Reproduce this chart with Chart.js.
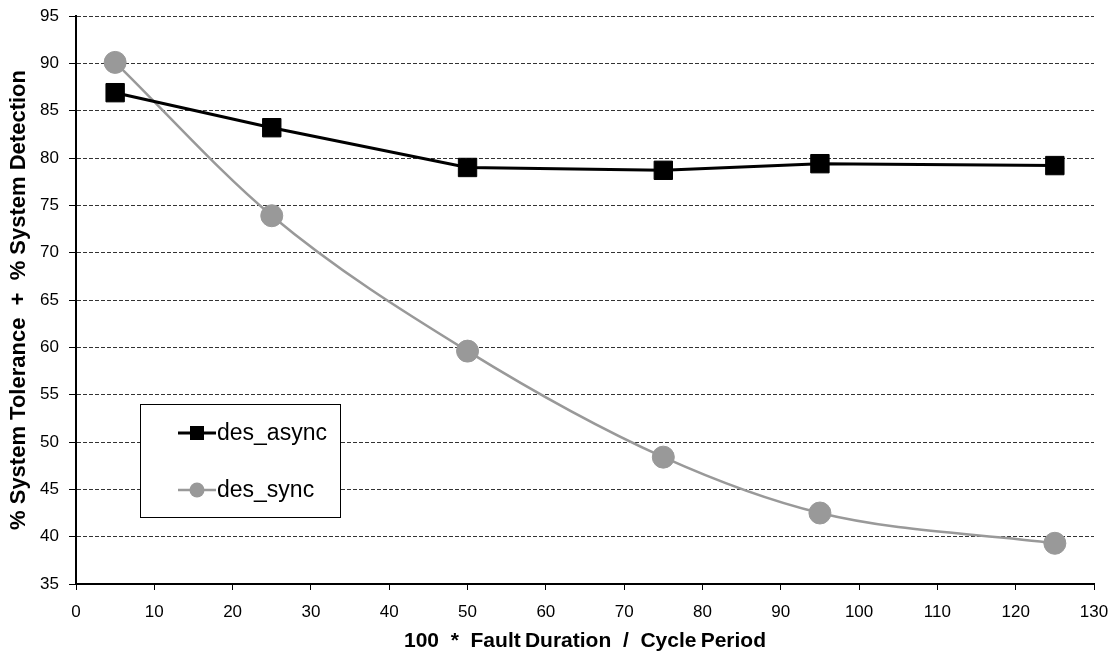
<!DOCTYPE html>
<html>
<head>
<meta charset="utf-8">
<script src="https://cdn.jsdelivr.net/npm/chart.js@4.4.0/dist/chart.umd.min.js"></script>
<style>
  html, body { margin: 0; padding: 0; background: #fff; }
  #wrap { width: 1114px; height: 654px; position: relative; }
</style>
</head>
<body>
<div id="wrap"><canvas id="faultChart"></canvas></div>
<script>
// x values (100 * fault duration / cycle period)
const faultRatio = [5, 25, 50, 75, 95, 125];
// % system tolerance + % system detection
const desAsync = [86.9, 83.2, 79.0, 78.7, 79.4, 79.2];
const desSync = [90.1, 73.9, 59.6, 48.4, 42.5, 39.3];

const seriesNames = ['des_async', 'des_sync'];
const xTitle = '100  *  Fault\u2009Duration  /  Cycle\u2009Period';
const yTitle = '% System Tolerance  +  % System Detection';

const FONT = '"Liberation Sans", Arial, sans-serif';
const toPoints = (xs, ys) => xs.map((x, i) => ({ x: x, y: ys[i] }));

// legend box drawn inside the plot, like the original
const boxLegend = {
    id: 'boxLegend',
    afterDraw(chart) {
        const ctx = chart.ctx;
        ctx.save();
        ctx.strokeStyle = '#000';
        ctx.lineWidth = 1;
        ctx.fillStyle = '#fff';
        ctx.fillRect(140.5, 404.5, 200, 113);
        ctx.strokeRect(140.5, 404.5, 200, 113);

        const rows = [
            { y: 433, color: '#000', width: 3, shape: 'square' },
            { y: 490, color: '#999', width: 2.5, shape: 'circle' }
        ];
        rows.forEach((r, i) => {
            ctx.strokeStyle = r.color;
            ctx.lineWidth = r.width;
            ctx.beginPath();
            ctx.moveTo(178, r.y);
            ctx.lineTo(216, r.y);
            ctx.stroke();
            ctx.fillStyle = r.color;
            if (r.shape === 'square') {
                ctx.fillRect(190, r.y - 7, 14, 14);
            } else {
                ctx.beginPath();
                ctx.arc(197, r.y, 7.5, 0, Math.PI * 2);
                ctx.fill();
            }
            ctx.fillStyle = '#000';
            ctx.font = '23px ' + FONT;
            ctx.textBaseline = 'middle';
            ctx.fillText(seriesNames[i], 217, r.y + 1);
        });
        ctx.restore();
    }
};

const ctx = document.getElementById('faultChart').getContext('2d');
new Chart(ctx, {
    type: 'line',
    data: {
        datasets: [
            {
                label: seriesNames[0],
                data: toPoints(faultRatio, desAsync),
                borderColor: '#000',
                backgroundColor: '#000',
                borderWidth: 3,
                pointStyle: 'rect',
                pointRadius: 13,
                pointBorderWidth: 1,
                pointBorderColor: '#000',
                tension: 0
            },
            {
                label: seriesNames[1],
                data: toPoints(faultRatio, desSync),
                borderColor: '#999',
                backgroundColor: '#999',
                borderWidth: 2.5,
                pointStyle: 'circle',
                pointRadius: 11,
                pointBorderWidth: 1,
                pointBorderColor: '#999',
                cubicInterpolationMode: 'monotone'
            }
        ]
    },
    options: {
        responsive: true,
        maintainAspectRatio: false,
        animation: false,
        layout: { padding: { top: 16, right: 20, left: 0, bottom: 0 } },
        plugins: {
            legend: { display: false },
            tooltip: { enabled: false }
        },
        scales: {
            x: {
                type: 'linear',
                min: 0, max: 130,
                ticks: { stepSize: 10, color: '#000', padding: 12, font: { family: FONT, size: 17 } },
                grid: { drawOnChartArea: false, drawTicks: true, tickLength: 6, tickColor: '#000', tickWidth: 1 },
                border: { color: '#000', width: 2 },
                title: { display: true, text: xTitle, color: '#000', padding: { top: 2, bottom: 0 }, font: { family: FONT, size: 21, weight: 'bold' } },
                afterFit(scale) {
                    scale.height = 70;
                    scale.paddingLeft = 0;
                    scale.paddingRight = 0;
                }
            },
            y: {
                min: 35, max: 95,
                ticks: { stepSize: 5, color: '#000', padding: 10, font: { family: FONT, size: 17 } },
                grid: { color: '#333', lineWidth: 1, tickLength: 7, tickColor: '#000', tickWidth: 1, tickBorderDash: [] },
                border: { color: '#000', width: 2, dash: [4, 2] },
                title: { display: true, text: yTitle, color: '#000', padding: { top: 6, bottom: 0 }, font: { family: FONT, size: 22, weight: 'bold' } },
                afterFit(scale) {
                    scale.width = 76;
                    scale.paddingTop = 0;
                    scale.paddingBottom = 0;
                }
            }
        }
    },
    plugins: [boxLegend]
});
</script>
</body>
</html>
